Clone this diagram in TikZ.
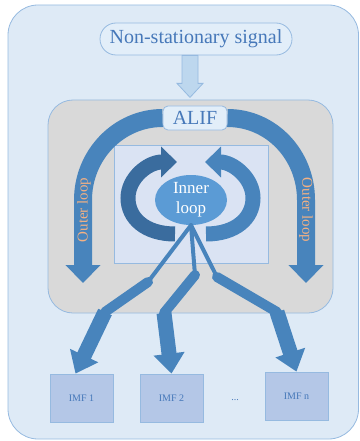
\documentclass[tikz,border=0pt]{standalone}
\usepackage{fontspec}
\setmainfont{Liberation Serif}
\usetikzlibrary{arrows.meta,calc,shapes.geometric}
\definecolor{bgblue}{RGB}{222,234,246}
\definecolor{lineblue}{RGB}{150,186,224}
\definecolor{sigfill}{RGB}{226,238,249}
\definecolor{textblue}{RGB}{70,120,185}
\definecolor{arrowfill}{RGB}{189,215,238}
\definecolor{grayfill}{RGB}{217,217,217}
\definecolor{loopblue}{RGB}{72,132,188}
\definecolor{darkloop}{RGB}{58,108,158}
\definecolor{innerfill}{RGB}{218,227,243}
\definecolor{ellfill}{RGB}{91,155,213}
\definecolor{outerorange}{RGB}{244,177,131}
\definecolor{imffill}{RGB}{180,199,231}
\pgfdeclarelayer{front}
\pgfsetlayers{main,front}

\begin{document}
\begin{tikzpicture}[x=1pt, y=-1pt,
  box/.style={draw=lineblue, line width=0.8pt},
  loopband/.style={draw=loopblue, line width=18pt, -{Triangle[width=34pt,length=18pt]}},
  innerband/.style={line width=15pt, -{Triangle[width=30pt,length=16pt]}},
  thinleg/.style={draw=loopblue, line width=4pt, line cap=round},
  midleg/.style={draw=loopblue, line width=10pt, line cap=round},
  fatleg/.style={draw=loopblue, line width=15pt, -{Triangle[width=30pt,length=20pt]}},
  imfbox/.style={box, fill=imffill, minimum width=63pt, minimum height=48pt, text=textblue, font=\fontsize{10}{12}\selectfont}]
\useasboundingbox (0,0) rectangle (359,441);
\draw [box, fill=bgblue, rounded corners=30pt] (8,5) rectangle (358.5,439);

\node [box, fill=sigfill, rounded corners=16pt, minimum width=192pt, minimum height=32pt, text=textblue, font=\fontsize{20}{24}\selectfont, name=sig] at (196,39) {Non-stationary signal};
\draw [box, fill=arrowfill] ($(sig.south)+(-14,0)$) -- ($(sig.south)+(2,0)$) -- ($(sig.south)+(2,28)$) -- ($(sig.south)+(7,28)$) -- ($(sig.south)+(-6,42)$) -- ($(sig.south)+(-19,28)$) -- ($(sig.south)+(-14,28)$) -- cycle;

\draw [box, fill=grayfill, rounded corners=25pt] (48,100) rectangle (333,313);
\node [draw=lineblue, fill=innerfill, minimum width=154pt, minimum height=118pt, name=innersq] at (191,204) {};

\begin{pgfonlayer}{front}
\node [box, fill=sigfill, rounded corners=5pt, minimum width=64pt, minimum height=24pt, inner sep=1pt, text=textblue, font=\fontsize{20}{24}\selectfont, name=alif] at (195,118) {ALIF};
\end{pgfonlayer}
\draw [loopband] (alif.west) .. controls +(-44,0) and +(0,-45) .. (83,200) -- (83,283);
\draw [loopband] (alif.east) .. controls +(44,0) and +(0,-45) .. (306,200) -- (306,283);
\node [rotate=90, text=outerorange, font=\fontsize{15}{18}\selectfont, name=outerL] at (84,210) {Outer loop};
\node [rotate=-90, text=outerorange, font=\fontsize{15}{18}\selectfont, name=outerR] at (306,210) {Outer loop};

\draw [innerband, draw=darkloop] (175,234) .. controls (145,234) and (128,218) .. (128,198) .. controls (128,178) and (148,162) .. (177,162);
\draw [innerband, draw=loopblue] (206,234) .. controls (236,234) and (253,218) .. (253,198) .. controls (253,178) and (233,162) .. (205,162);
\node [ellipse, fill=ellfill, minimum width=72pt, minimum height=50pt, inner sep=0pt, align=center, text=white, font=\fontsize{17}{20}\selectfont, name=inner] at (191,200) {Inner\\loop};

\begin{scope}[yshift=0pt]
\node [imfbox, name=imf1] at (81.5,398) {IMF 1};
\node [imfbox, name=imf2] at (171.5,398) {IMF 2};
\node [imfbox, name=imfn] at (296.5,396) {IMF n};
\node [text=textblue, font=\fontsize{10}{12}\selectfont, name=dots] at (235,400) {...};
\end{scope}

\coordinate (b1a) at (148,282);
\coordinate (b1b) at (105,312);
\coordinate (b2a) at (195,275);
\coordinate (b2b) at (164,313);
\coordinate (b3a) at (217,277);
\coordinate (b3b) at (277,312);
\draw [thinleg] (inner.south) -- (b1a);
\draw [thinleg] (inner.south) -- (b2a);
\draw [thinleg] (inner.south) -- (b3a);
\draw [midleg] (b1a) -- (b1b);
\draw [midleg] (b2a) -- (b2b);
\draw [midleg] (b3a) -- (b3b);
\draw [fatleg] (b1b) -- ([xshift=-6pt]imf1.north);
\draw [fatleg] (b2b) -- (imf2.north);
\draw [fatleg] (b3b) -- (imfn.north);
\end{tikzpicture}
\end{document}
